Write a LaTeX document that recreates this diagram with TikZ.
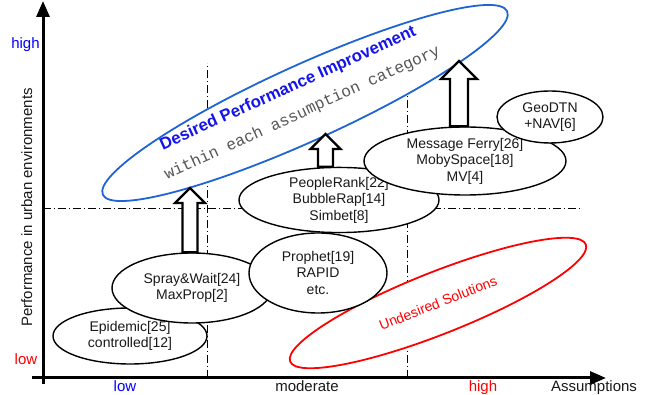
\documentclass[tikz,border=0pt]{standalone}
\usepackage{fontspec}
\setmainfont{Liberation Sans}
\setmonofont{Liberation Mono}
\usepackage{tikz}
\usetikzlibrary{shapes.geometric,arrows.meta,calc}

\definecolor{ellblue}{RGB}{30,100,210}
\definecolor{titleblue}{RGB}{20,20,235}
\definecolor{subgray}{RGB}{85,85,85}
\definecolor{txt}{RGB}{25,25,25}

\newcommand{\blockup}[3][8]{%
  \draw[blockarrow] let \p1=(#2), \p2=(#3) in
    (\x2-#1pt,\y1) -- (\x2-#1pt,\y2-2*#1pt) -- (\x2-2*#1pt,\y2-2*#1pt) -- (\x2,\y2)
    -- (\x2+2*#1pt,\y2-2*#1pt) -- (\x2+#1pt,\y2-2*#1pt) -- (\x2+#1pt,\y1) -- cycle;}

\begin{document}
\begin{tikzpicture}[x=1pt,y=1pt,
  axis/.style={line width=3pt, -{Triangle[length=16pt,width=13pt]}},
  axlabel/.style={anchor=base, font=\fontsize{15}{18}\selectfont},
  guide/.style={line width=0.8pt, dash pattern=on 8pt off 3pt on 1pt off 3pt},
  algo/.style={ellipse, draw, line width=1.4pt, fill=white, inner sep=0pt, align=center, text=txt, font=\fontsize{14}{16.5}\selectfont},
  region/.style={ellipse, line width=1.8pt, fill=white, inner sep=0pt},
  blockarrow/.style={line width=2.2pt, fill=white, line join=miter}]
\useasboundingbox (0,0) rectangle (650,395);

\coordinate (ybot) at (43,11);
\coordinate (ytop) at (43,394);
\coordinate (xleft) at (32,17);
\coordinate (xright) at (606,17);
\draw[axis] (ybot) -- (ytop);
\draw[axis] (xleft) -- (xright);

\coordinate (v1b) at (207,17);
\coordinate (v1t) at (207,332);
\coordinate (v2b) at (407,17);
\coordinate (v2t) at (407,305);
\coordinate (hl) at (43,187);
\coordinate (hr) at (580,187);
\draw[guide] (v1b) -- (v1t);
\draw[guide] (v2b) -- (v2t);
\draw[guide] (hl) -- (hr);

\node[axlabel, text=blue] (yhigh) at (25.5,346) {high};
\node[axlabel, text=red] (ylow) at (26,30) {low};
\node[axlabel, text=blue] (xlow) at (125,3) {low};
\node[axlabel, text=txt] (xmod) at (307,3) {moderate};
\node[axlabel, text=red] (xhigh) at (483,3) {high};
\node[axlabel, text=txt] (xname) at (594,3) {Assumptions};
\node[axlabel, text=txt, rotate=90] (yname) at (32,187.5) {Performance in urban environments};

\node[region, draw=ellblue, rotate=24.4, minimum width=444pt, minimum height=76pt] (desired) at (305,292) {};
\node[anchor=base, rotate=24.4, text=titleblue, font=\bfseries\fontsize{16.8}{20}\selectfont] (dtitle) at (290,302.5) {Desired Performance Improvement};
\node[anchor=base, rotate=24.6, text=subgray, font=\ttfamily\fontsize{16.2}{18}\selectfont] (dsub) at (304,278) {within each assumption category};

\node[region, draw=red, rotate=21.6, minimum width=318pt, minimum height=62pt, text=red, font=\fontsize{14}{16.5}\selectfont] (undesired) at (438,92) {Undesired Solutions};

\node[algo, minimum width=154pt, minimum height=56pt] (epidemic) at (130,59) {Epidemic[25]\\controlled[12]};
\node[algo, minimum width=160pt, minimum height=70pt] (spray) at (192,107) {Spray\&Wait[24]\\MaxProp[2]};
\node[algo, minimum width=138pt, minimum height=80pt] (prophet) at (318,122) {Prophet[19]\\RAPID\\etc.};
\node[algo, minimum width=200pt, minimum height=64pt] (people) at (339,195) {PeopleRank[22]\\BubbleRap[14]\\Simbet[8]};
\node[algo, minimum width=202pt, minimum height=68pt] (ferry) at (465,234) {Message Ferry[26]\\MobySpace[18]\\MV[4]};
\node[algo, minimum width=106pt, minimum height=52pt] (geodtn) at (550,278) {GeoDTN\\+NAV[6]};

\coordinate (tip1) at (190,207);
\coordinate (tip2) at (325.5,261);
\coordinate (tip3) at (459,334);
\blockup[7.5]{spray.north}{tip1}
\blockup[7.5]{people.north}{tip2}
\blockup[9]{ferry.north}{tip3}
\end{tikzpicture}
\end{document}
